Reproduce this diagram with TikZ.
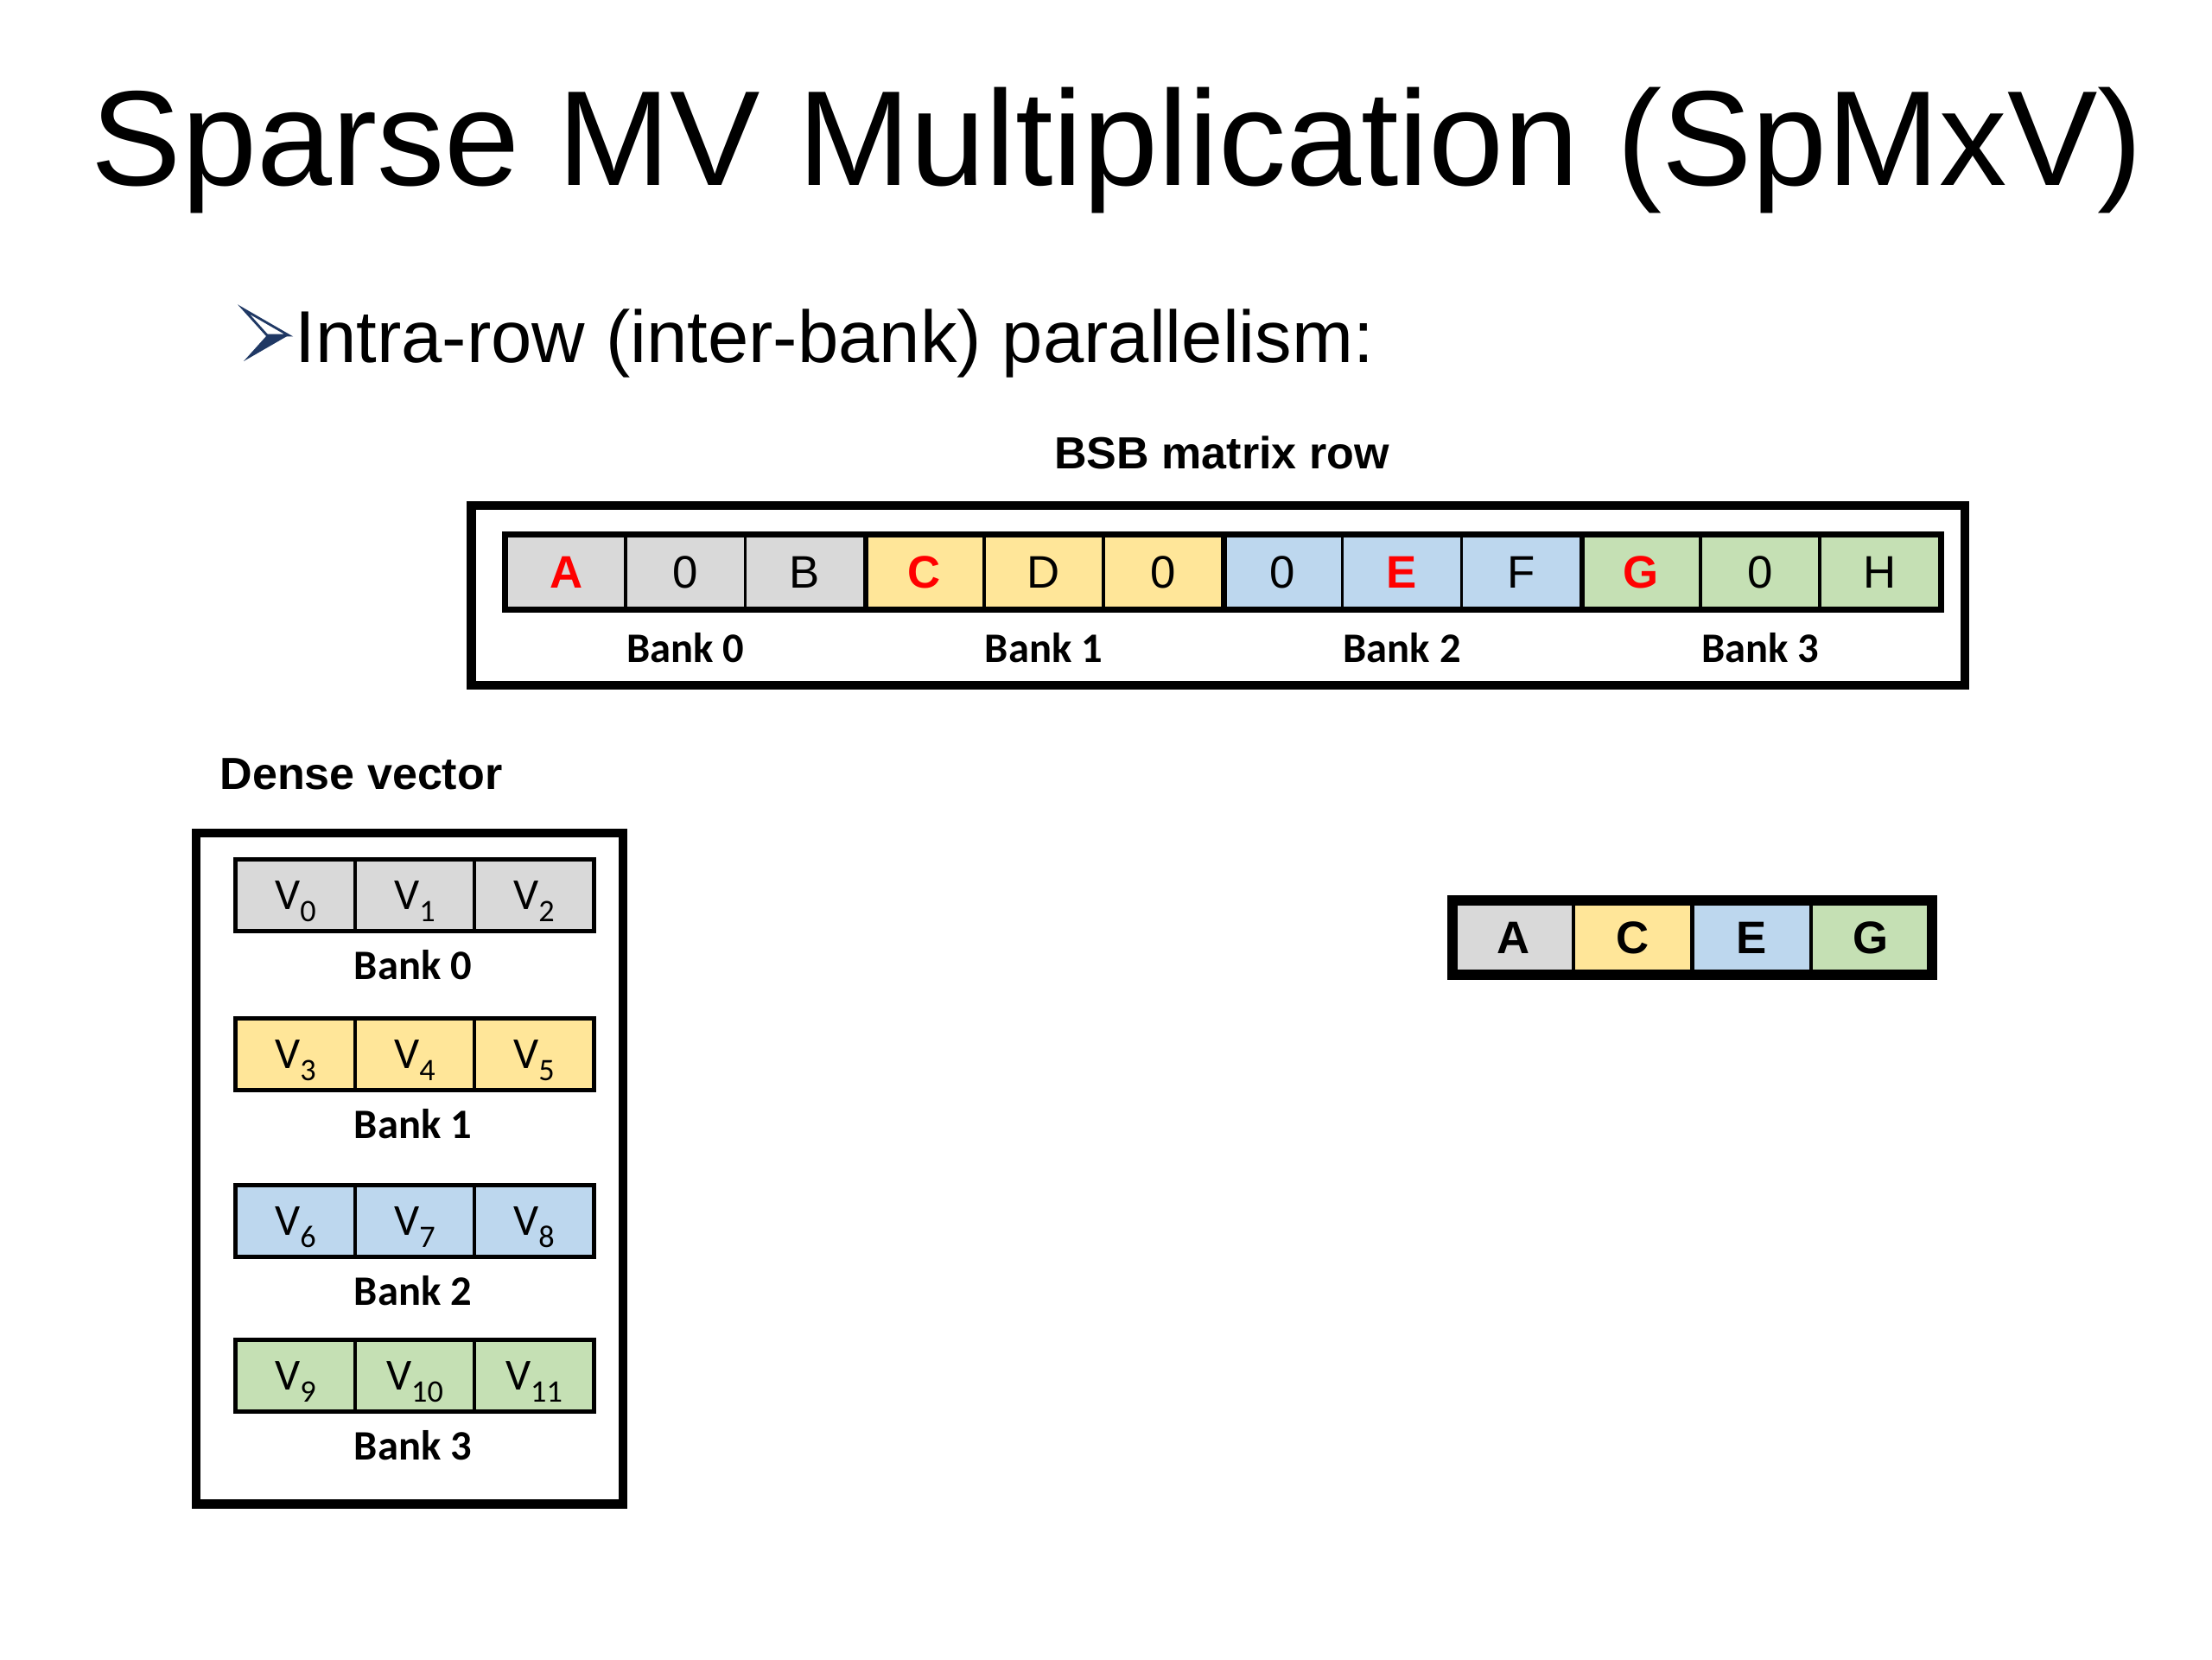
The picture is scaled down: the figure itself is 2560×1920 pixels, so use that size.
\documentclass[tikz,border=0pt]{standalone}
\usepackage{fontspec}
\setmainfont{Liberation Sans}
\newfontfamily\calibri{Carlito}
\definecolor{cgray}{HTML}{D9D9D9}
\definecolor{cyellow}{HTML}{FFE699}
\definecolor{cblue}{HTML}{BDD7EE}
\definecolor{cgreen}{HTML}{C5E0B4}
\definecolor{cred}{HTML}{FF0000}
\definecolor{cnavy}{HTML}{1F3864}
\newcommand\Vsb[1]{V\raisebox{-3.9pt}{\fontsize{10.3}{11}\selectfont #1}}
\begin{document}
\begin{tikzpicture}[x=0.01cm,y=-0.01cm,
  mcell/.style={draw=black, line width=1pt, minimum width=1.382cm, minimum height=0.84cm,
    inner sep=0pt, text height=10.7pt, text depth=0pt, font=\fontsize{15}{18}\selectfont},
  hl/.style={text=cred, font=\bfseries\fontsize{15}{18}\selectfont},
  plain/.style={},
  vcell/.style={draw=black, line width=0.9pt, minimum width=1.38cm, minimum height=0.82cm,
    inner sep=0pt, text height=9.3pt, text depth=0pt, font=\calibri\fontsize{14.6}{16}\selectfont},
  banklbl/.style={anchor=base, inner sep=0pt, font=\calibri\bfseries\fontsize{13.8}{16}\selectfont},
  frame/.style={draw=black, inner sep=0pt}
]
\useasboundingbox (0,0) rectangle (2560,1920);

% titles
\node[anchor=base, inner sep=0pt, font=\fontsize{44.5}{50}\selectfont] (title) at (1293,214) {Sparse MV Multiplication (SpMxV)};
\node[anchor=base west, inner sep=0pt, font=\fontsize{24.2}{28}\selectfont] (bullet) at (341,419) {Intra-row (inter-bank) parallelism:};
% bullet arrow
\fill[cnavy] (309,388) -- (334,388) -- (282,418) -- cycle;
\draw[cnavy, line width=0.8pt, line join=miter] (282,358) -- (334,388) -- (309,388) -- cycle;

\node[anchor=base, inner sep=0pt, font=\bfseries\fontsize{14.8}{17}\selectfont] (bsbt) at (1414,542) {BSB matrix row};
\node[anchor=base, inner sep=0pt, font=\bfseries\fontsize{14.8}{17}\selectfont] (dvt) at (418,913) {Dense vector};

% BSB matrix row
\node[frame, line width=2.85pt, minimum width=17.27cm, minimum height=2.08cm] (bsbframe) at (1409.5,689) {};
\foreach \i/\t/\f/\s in {1/A/cgray/hl, 2/0/cgray/plain, 3/B/cgray/plain,
  4/C/cyellow/hl, 5/D/cyellow/plain, 6/0/cyellow/plain,
  7/0/cblue/plain, 8/E/cblue/hl, 9/F/cblue/plain,
  10/G/cgreen/hl, 11/0/cgreen/plain, 12/H/cgreen/plain}
  \node[mcell, fill=\f, \s] (r\i) at ({586+138.2*(\i-0.5)},662) {\t};
\foreach \i in {3,6,9}
  \draw[line width=1.6pt] (r\i.north east) -- (r\i.south east);
\draw[line width=2pt] (r1.north west) rectangle (r12.south east);
\foreach \k in {0,...,3}
  \node[banklbl] (bl\k) at ({586+138.2*(3*\k+1.5)},766) {Bank \k};

% Dense vector
\node[frame, line width=3pt, minimum width=4.94cm, minimum height=7.76cm] (dframe) at (474,1352) {};
\foreach \b/\y/\f in {0/1036/cgray, 1/1220/cyellow, 2/1413/cblue, 3/1592/cgreen} {
  \pgfmathtruncatemacro\fa{3*\b}
  \pgfmathtruncatemacro\fc{3*\b+2}
  \foreach \j in {0,1,2} {
    \pgfmathtruncatemacro\n{3*\b+\j}
    \node[vcell, fill=\f] (v\n) at ({273+138*(\j+0.5)},\y) {\Vsb{\n}};
  }
  \draw[line width=1.05pt] (v\fa.north west) rectangle (v\fc.south east);
  \node[banklbl] (vb\b) at (478,\y+97) {Bank \b};
}

% gathered row
\foreach \i/\t/\f in {1/A/cgray, 2/C/cyellow, 3/E/cblue, 4/G/cgreen}
  \node[mcell, fill=\f, minimum width=1.3775cm, minimum height=0.82cm, line width=1.2pt,
        font=\bfseries\fontsize{15}{18}\selectfont] (s\i) at ({1683+137.75*(\i-0.5)},1085) {\t};
\draw[line width=3.3pt] (s1.north west) rectangle (s4.south east);
\end{tikzpicture}
\end{document}
